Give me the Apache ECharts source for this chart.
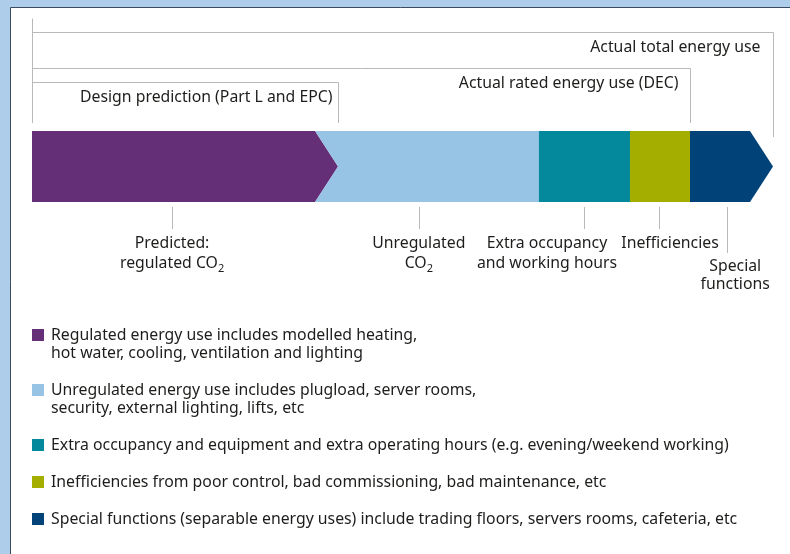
<!DOCTYPE html>
<html>
<head>
<meta charset="utf-8">
<script src="https://cdn.jsdelivr.net/npm/echarts@6/dist/echarts.min.js"></script>
<style>
  html, body { margin: 0; padding: 0; background: #aecdea; }
  #main { width: 790px; height: 554px; }
</style>
</head>
<body>
<div id="main"></div>
<script>
// segments of the energy bar (share of actual total energy use, %)
const segNames = ['Regulated', 'Unregulated', 'Extra occupancy', 'Inefficiencies', 'Special functions']
const segValues = [41.3, 27.1, 12.3, 8.1, 11.2]
const segColors = ['#652f78', '#97c3e4', '#03899b', '#a3ae00', '#014279']
// callout labels under the bar, and where their leader / text sit on the same scale
const segLabels = [
  '{t|Predicted:}\n{t|regulated CO}{s|2}',
  '{t|Unregulated}\n{t|CO}{s|2}',
  '{t|Extra occupancy}\n{t|and working hours}',
  '{t|Inefficiencies}',
  '{t|Special}\n{t|functions}'
]
const leaderAt = [18.9, 52.2, 74.5, 84.6, 93.8]
const labelAt = [18.9, 52.2, 69.5, 86.1, 94.9]

// brackets above the bar: name and how many segments they cover
const bracketNames = ['Design prediction (Part L and EPC)', 'Actual rated energy use (DEC)', 'Actual total energy use']
const bracketSegs = [1, 4, 5]

const legendText = [
  'Regulated energy use includes modelled heating,\nhot water, cooling, ventilation and lighting',
  'Unregulated energy use includes plugload, server rooms,\nsecurity, external lighting, lifts, etc',
  'Extra occupancy and equipment and extra operating hours (e.g. evening/weekend working)',
  'Inefficiencies from poor control, bad commissioning, bad maintenance, etc',
  'Special functions (separable energy uses) include trading floors, servers rooms, cafeteria, etc'
]

// layout bits
const arrowPx = 23
const bracketRise = [49, 63, 99]
const bracketPad = [6, 12, 13]
const textColor = '#1d1d1b'
const lineColor = '#b9b9b9'
const mainFont = 'Noto Sans'
const fontPx = 15.8

let cum = [0]
for (let i = 0; i < segValues.length; i++) {
  cum.push(+(cum[i] + segValues[i]).toFixed(2))
}
const hasArrow = i => i === 0 || i === segValues.length - 1

function renderSegment(params, api) {
  const i = params.dataIndex
  const a = api.coord([api.value(0), 1])
  const b = api.coord([api.value(1), 0])
  const top = a[1], bottom = b[1], mid = (top + bottom) / 2
  const x0 = a[0], x1 = b[0]
  let pts = []
  if (i > 0 && hasArrow(i - 1)) {
    pts.push([x0 - arrowPx, top])
  } else {
    pts.push([x0, top])
  }
  if (hasArrow(i)) {
    pts.push([x1 - arrowPx, top], [x1, mid], [x1 - arrowPx, bottom])
  } else {
    pts.push([x1, top], [x1, bottom])
  }
  if (i > 0 && hasArrow(i - 1)) {
    pts.push([x0 - arrowPx, bottom], [x0, mid])
  } else {
    pts.push([x0, bottom])
  }
  const lx = api.coord([api.value(2), 0])[0]
  const tx = api.coord([api.value(3), 0])[0]
  const last = i === segValues.length - 1
  const leaderEnd = last ? bottom + 51 : bottom + 27
  return {
    type: 'group',
    children: [
      { type: 'polygon', shape: { points: pts }, style: { fill: segColors[i] } },
      {
        type: 'line',
        shape: { x1: Math.round(lx) + 0.5, y1: bottom + 5, x2: Math.round(lx) + 0.5, y2: leaderEnd },
        style: { stroke: lineColor, lineWidth: 1 }
      },
      {
        type: 'text',
        x: tx,
        y: last ? bottom + 55 : bottom + 31,
        style: {
          text: segLabels[i],
          align: 'center',
          verticalAlign: 'top',
          fill: textColor,
          rich: {
            t: { fontFamily: mainFont, fontSize: fontPx, lineHeight: last ? 18 : 20, color: textColor },
            s: { fontFamily: mainFont, fontSize: 11, padding: [10, 0, 0, 0], color: textColor }
          }
        }
      }
    ]
  }
}

function renderBracket(params, api) {
  const i = params.dataIndex
  const base = api.coord([0, 1])
  const end = api.coord([api.value(0), 1])
  const barTop = base[1]
  const y = barTop - bracketRise[i] + 0.5
  const last = i === bracketNames.length - 1
  const x0 = Math.round(base[0]) + 0.5
  const x1 = Math.round(end[0]) + 0.5
  const drop = last ? barTop + 6 : barTop - 8
  return {
    type: 'group',
    children: [
      {
        type: 'polyline',
        shape: { points: [[x0, last ? y - 14 : y], [x0, barTop - 8], [x0, y], [x1, y], [x1, drop]] },
        style: { stroke: lineColor, lineWidth: 1, fill: null }
      },
      {
        type: 'text',
        x: x1 - bracketPad[i],
        y: y + 15,
        style: {
          text: bracketNames[i],
          align: 'right',
          verticalAlign: 'middle',
          fill: textColor,
          font: fontPx + 'px "' + mainFont + '"'
        }
      }
    ]
  }
}

// legend drawn as graphic elements
let legendItems = []
let ly = 335
legendText.forEach((txt, i) => {
  const lines = txt.split('\n').length
  legendItems.push({
    type: 'rect',
    shape: { x: 32, y: ly - 6, width: 12, height: 12 },
    style: { fill: segColors[i] }
  })
  legendItems.push({
    type: 'text',
    x: 51,
    y: ly - 9,
    style: { text: txt, font: fontPx + 'px "' + mainFont + '"', lineHeight: 18, fill: textColor, verticalAlign: 'top' }
  })
  ly += lines * 18 + 19
})

const myChart = echarts.init(document.getElementById('main'))
const option = {
  animation: false,
  backgroundColor: '#aecdea',
  grid: { left: 32, right: 17, top: 131, height: 71 },
  xAxis: { type: 'value', min: 0, max: 100, show: false },
  yAxis: { type: 'value', min: 0, max: 1, show: false },
  graphic: [
    {
      type: 'rect',
      z: -10,
      shape: { x: 10.5, y: 7.5, width: 800, height: 560 },
      style: { fill: '#ffffff', stroke: '#3b4a5c', lineWidth: 1 }
    },
    { type: 'group', children: legendItems }
  ],
  series: [
    {
      type: 'custom',
      name: 'segments',
      renderItem: renderSegment,
      data: segValues.map((v, i) => [cum[i], cum[i + 1], leaderAt[i], labelAt[i]])
    },
    {
      type: 'custom',
      name: 'brackets',
      renderItem: renderBracket,
      data: bracketSegs.map(n => [cum[n]])
    }
  ]
}
myChart.setOption(option)
</script>
</body>
</html>
